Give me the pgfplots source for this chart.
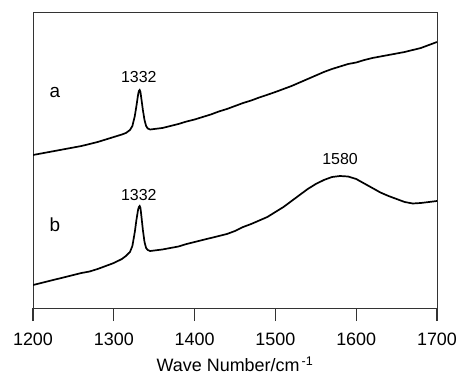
\documentclass[border=0pt]{standalone}
\usepackage{pgfplots}
\pgfplotsset{compat=1.18}
\usepackage{fontspec}
\setmainfont{Liberation Sans}
\begin{document}
\begin{tikzpicture}
\begin{axis}[
  scale only axis=true,
  width=404bp, height=295.3bp,
  xmin=1200, xmax=1700,
  ymin=-8, ymax=287.3,
  xtick={1200,1300,1400,1500,1600,1700},
  ytick=\empty,
  xtick pos=left,
  xtick align=outside,
  axis line style={black!80, line width=0.9bp},
  major tick length=13bp,
  every tick/.append style={black!80, line width=1.2bp},
  tick label style={font=\fontsize{18}{20}\selectfont},
  xticklabel style={yshift=-8bp},
  /pgf/number format/assume math mode=true,
  /pgf/number format/set thousands separator={},
  xlabel={Wave Number/cm\textsuperscript{\,-1}},
  xlabel style={font=\fontsize{18}{20}\selectfont, inner sep=0pt, yshift=-8bp},
  clip=true,
]
\addplot[black, line width=1.7bp] coordinates {
(1200,145) (1210,146.5) (1220,148) (1230,149.5) (1240,151) (1250,152.5)
(1260,154) (1270,156) (1280,158) (1290,160.5) (1300,163) (1310,165.5)
(1315,167) (1320,170) (1323,174) (1326,184) (1328,194) (1330,205)
(1331,209) (1332,210) (1333,208) (1334,202) (1336,190) (1338,180)
(1340,174) (1342,171.5) (1345,170.5) (1350,171) (1360,172) (1370,174)
(1380,176) (1390,178.5) (1400,180.5) (1410,183) (1420,185.5) (1430,188.5)
(1440,191) (1450,194) (1460,197) (1470,199.5) (1480,202.5) (1490,205.2)
(1500,208) (1510,211) (1520,214) (1530,217.5) (1540,221) (1550,224.5)
(1560,228) (1570,231) (1580,233.5) (1590,236) (1600,237.5) (1610,240)
(1620,242) (1630,243.5) (1640,245) (1650,246.5) (1660,248) (1670,250)
(1680,252) (1690,255) (1700,258)
};
\addplot[black, line width=1.7bp] coordinates {
(1200,15) (1210,17) (1220,19) (1230,21) (1240,23) (1250,25)
(1260,27) (1270,28.5) (1280,31) (1290,34) (1300,37) (1310,41)
(1315,44) (1320,48) (1323,54) (1326,68) (1328,80) (1330,90)
(1331,93) (1332,94) (1333,92) (1334,85) (1336,70) (1338,58)
(1340,52) (1342,50) (1345,49) (1350,49.5) (1360,50.5) (1370,52)
(1380,53.5) (1390,56) (1400,58) (1410,60) (1420,62) (1430,64)
(1440,66) (1450,69) (1460,73) (1470,76) (1480,79.5) (1490,83)
(1500,88) (1510,93) (1520,99) (1530,105) (1540,111) (1550,116)
(1560,120) (1570,123) (1580,124) (1590,123.5) (1600,121) (1610,116.5)
(1620,112) (1630,107.5) (1640,104) (1650,101) (1660,98) (1670,96.5)
(1680,97) (1690,98) (1700,99)
};
\node[font=\fontsize{19}{21}\selectfont] at (axis cs:1227,207.3) {a};
\node[font=\fontsize{19}{21}\selectfont] at (axis cs:1227,75) {b};
\node[font=\fontsize{16}{18}\selectfont] at (axis cs:1331,223.3) {1332};
\node[font=\fontsize{16}{18}\selectfont] at (axis cs:1331,105) {1332};
\node[font=\fontsize{16}{18}\selectfont] at (axis cs:1580,141) {1580};
\end{axis}
\pgfresetboundingbox
\useasboundingbox (-33bp,-68bp) rectangle (427bp,308bp);
\end{tikzpicture}
\end{document}
